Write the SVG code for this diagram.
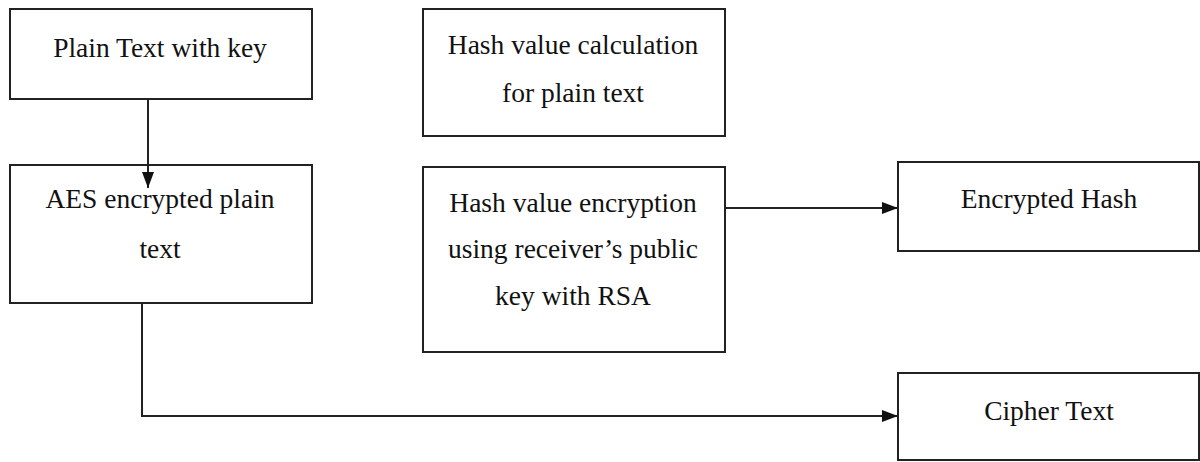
<svg xmlns="http://www.w3.org/2000/svg" width="1200" height="462" viewBox="0 0 1200 462">
<style>
.box{fill:#fff;stroke:#222;stroke-width:2}
.t{font-family:"Liberation Serif","Times New Roman",serif;font-size:27.5px;fill:#111;text-anchor:middle}
.c{fill:none;stroke:#222;stroke-width:2}
</style>
<defs>
<marker id="ah" markerWidth="16" markerHeight="12" refX="16" refY="6" orient="auto" markerUnits="userSpaceOnUse">
<path d="M0,0 L16,6 L0,12 Z" fill="#111"/>
</marker>
</defs>
<rect width="1200" height="462" fill="#fff"/>
<g id="n1"><rect class="box" x="10" y="9" width="302" height="90"/><text class="t" x="160" y="57">Plain Text with key</text></g>
<g id="n2"><rect class="box" x="10" y="165" width="302" height="138"/><text class="t" x="160" y="208">AES encrypted plain</text><text class="t" x="160" y="258">text</text></g>
<g id="n3"><rect class="box" x="423" y="9" width="302" height="127"/><text class="t" x="573" y="54">Hash value calculation</text><text class="t" x="573" y="102">for plain text</text></g>
<g id="n4"><rect class="box" x="423" y="167" width="302" height="185"/><text class="t" x="573" y="212">Hash value encryption</text><text class="t" x="573" y="258">using receiver’s public</text><text class="t" x="573" y="305">key with RSA</text></g>
<g id="n5"><rect class="box" x="898" y="162" width="301" height="89"/><text class="t" x="1049" y="208">Encrypted Hash</text></g>
<g id="n6"><rect class="box" x="898" y="373" width="301" height="87"/><text class="t" x="1049" y="420">Cipher Text</text></g>
<g id="connectors">
<path class="c" d="M148,99 V188" marker-end="url(#ah)"/>
<path class="c" d="M725,208 H898" marker-end="url(#ah)"/>
<path class="c" d="M142,303 V416 H898" marker-end="url(#ah)"/>
</g>
</svg>
